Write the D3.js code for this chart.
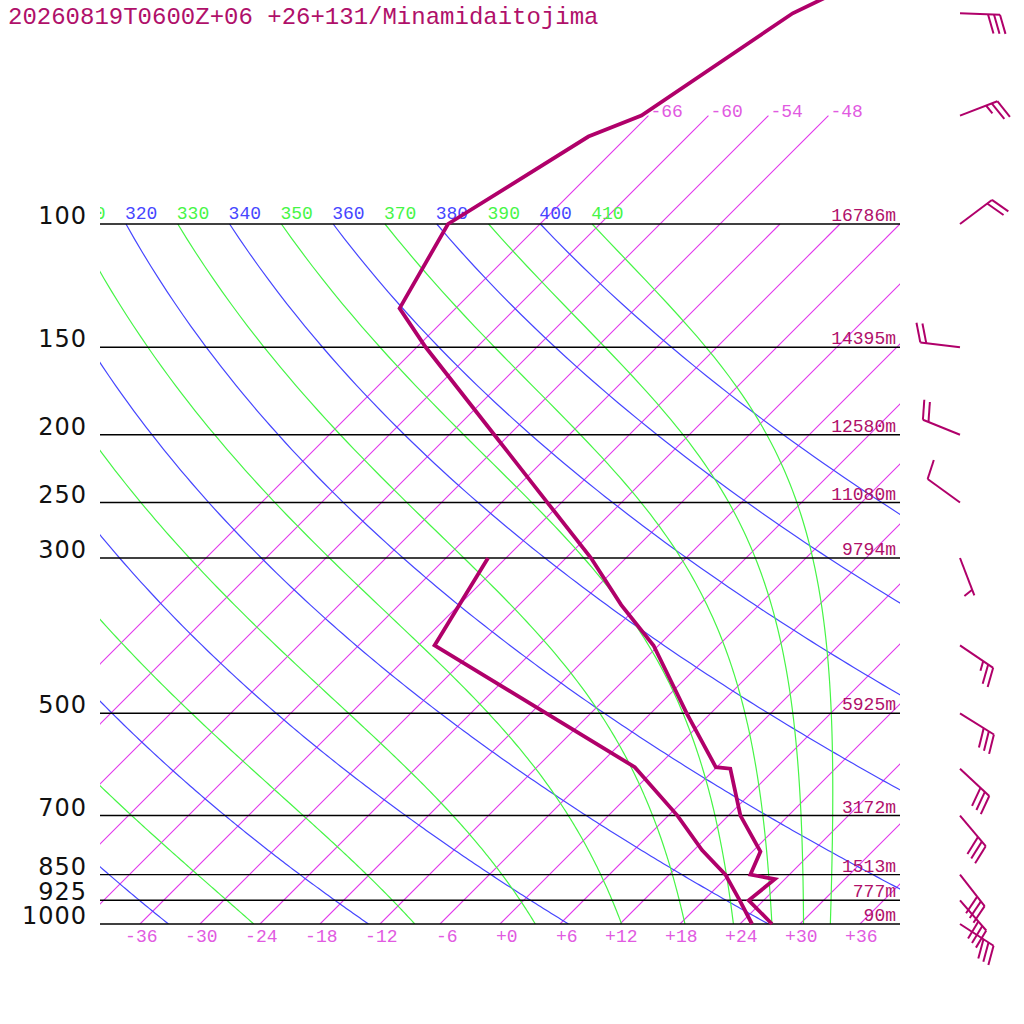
<!DOCTYPE html>
<html>
<head>
<meta charset="utf-8">
<script src="https://cdn.jsdelivr.net/npm/d3@7.9.0/dist/d3.min.js"></script>
<style>
  body { margin: 0; background: #fff; }
  svg { display: block; }
</style>
</head>
<body>
<svg width="1024" height="1024"></svg>
<script>
const title = '20260819T0600Z+06 +26+131/Minamidaitojima';

// isobars and their heights
const isobars = [100, 150, 200, 250, 300, 500, 700, 850, 925, 1000];
const heights = ['16786m', '14395m', '12580m', '11080m', '9794m', '5925m', '3172m', '1513m', '777m', '90m'];

// background lines
const isotherms = [-66, -60, -54, -48, -42, -36, -30, -24, -18, -12, -6, 0, 6, 12, 18, 24, 30, 36];
const isothermsHigh = [-66, -60, -54, -48]; // these go up to 70 hPa
const tempTicks = [-36, -30, -24, -18, -12, -6, 0, 6, 12, 18, 24, 30, 36];
const dryThetas = [240, 260, 280, 300, 320, 340, 360, 380, 400];
const moistThetas = [250, 270, 290, 310, 330, 350, 370, 390, 410];
const thetaLabels = [310, 320, 330, 340, 350, 360, 370, 380, 390, 400, 410];

// sounding
const tempP = [1000, 925, 863, 850, 788, 700, 600, 597, 500, 400, 350, 300, 250, 200, 150, 132, 100, 75, 70, 50, 30];
const tempT = [27.2, 22.5, 23.0, 20.1, 18.8, 13.2, 7.5, 5.9, -2.4, -12.5, -19.8, -27.5, -37.4, -49.5, -65.1, -71.6, -75.2, -69.9, -66.7, -61.8, -45];
const dewP = [1000, 925, 850, 784, 700, 597, 400, 300];
const dewT = [25.2, 21.6, 17.6, 12.8, 6.9, -2.2, -34.4, -37.8];

// winds (deg, kt)
const windP = [50, 70, 100, 150, 200, 250, 300, 400, 500, 600, 700, 850, 925, 1000];
const windDir = [92, 69, 53, 277, 292, 306, 159, 124, 122, 133, 140, 142, 139, 123];
const windSpd = [30, 25, 20, 20, 20, 10, 5, 25, 30, 30, 30, 30, 30, 30];

const C = {
  trace: '#b0006a',
  label: '#b0106a',
  iso: 'rgb(225,55,235)',
  isoText: 'rgb(225,90,225)',
  dry: 'rgb(70,70,255)',
  moist: 'rgb(70,245,70)'
};
const mono = '"Liberation Mono", "DejaVu Sans Mono", monospace';

const svg = d3.select('svg');
const y = d3.scaleLog().domain([1000, 100]).range([924, 224]);
const x = d3.scaleLinear().domain([-40, 40]).range([100, 900]);
const skewX = (t, p) => x(t) + (y(1000) - y(p));

svg.append('defs').append('clipPath').attr('id', 'plot')
  .append('rect').attr('x', 100).attr('y', 0).attr('width', 800).attr('height', 924);

const grid = svg.append('g').attr('clip-path', 'url(#plot)').attr('fill', 'none');
const lineGen = d3.line().x(d => skewX(d[1], d[0])).y(d => y(d[0]));

// sample pressures for curved lines
const pLevels = d3.range(1000, 99, -5);

// isotherms
const isoG = grid.append('g');
isotherms.forEach(t => {
  const top = isothermsHigh.includes(t) ? 70 : 100;
  isoG.append('path')
    .attr('d', lineGen([[1000, t], [top, t]]))
    .style('stroke', C.iso).style('stroke-width', '1.1px').style('fill', 'none');
});

// dry adiabats
const kappa = 0.2857;
dryThetas.forEach(th => {
  const pts = pLevels.map(p => [p, th * Math.pow(p / 1000, kappa) - 273.15]);
  grid.append('path').attr('d', lineGen(pts))
    .style('stroke', C.dry).style('stroke-width', '1.2px').style('fill', 'none');
});

// moist adiabats: start at 100 hPa on the dry adiabat, integrate down
const Rd = 287.04, Cp = 1005.7, Lv = 2.501e6, eps = 0.622;
function dTdp(p, T) {
  const es = 6.112 * Math.exp(17.67 * (T - 273.15) / (T - 29.65));
  const rs = eps * es / (p - es);
  return (Rd * T + Lv * rs) / (p * (Cp + Lv * Lv * rs * eps / (Rd * T * T)));
}
moistThetas.forEach(th => {
  let T = th * Math.pow(0.1, kappa);
  const pts = [[100, T - 273.15]];
  const dp = 1;
  for (let p = 100; p < 1000; p += dp) {
    const k1 = dTdp(p, T);
    const k2 = dTdp(p + dp / 2, T + k1 * dp / 2);
    const k3 = dTdp(p + dp / 2, T + k2 * dp / 2);
    const k4 = dTdp(p + dp, T + k3 * dp);
    T += dp * (k1 + 2 * k2 + 2 * k3 + k4) / 6;
    if ((p + dp) % 5 === 0) pts.push([p + dp, T - 273.15]);
  }
  grid.append('path').attr('d', lineGen(pts))
    .style('stroke', C.moist).style('stroke-width', '1.2px').style('fill', 'none');
});

// theta labels along 100 hPa
const labelG = svg.append('g').attr('clip-path', 'url(#plot)');
thetaLabels.forEach(th => {
  const t = th * Math.pow(0.1, kappa) - 273.15;
  labelG.append('text')
    .attr('x', skewX(t, 100) - 1).attr('y', y(100) - 5)
    .attr('fill', th % 20 === 0 ? C.dry : C.moist)
    .attr('font-family', mono).attr('font-size', 18)
    .text(th);
});

// isobars
svg.append('g').selectAll('line').data(isobars).join('line')
  .attr('x1', 100).attr('x2', 900)
  .attr('y1', d => y(d)).attr('y2', d => y(d))
  .attr('stroke', '#000').attr('stroke-width', 1.4);

// pressure labels
svg.append('g').selectAll('text').data(isobars).join('text')
  .attr('x', 87).attr('y', d => y(d))
  .attr('text-anchor', 'end')
  .attr('font-family', '"DejaVu Sans", sans-serif').attr('font-size', 24)
  .attr('letter-spacing', 1)
  .attr('fill', '#111')
  .text(d => d);

// height labels
svg.append('g').selectAll('text').data(isobars).join('text')
  .attr('x', 896).attr('y', d => y(d) - 3)
  .attr('text-anchor', 'end')
  .attr('font-family', mono).attr('font-size', 18)
  .attr('fill', C.label)
  .text((d, i) => heights[i]);

// temperature ticks at bottom
const fmt = t => (t < 0 ? '-' : '+') + Math.abs(t);
svg.append('g').selectAll('text').data(tempTicks).join('text')
  .attr('x', d => x(d) + 17.5).attr('y', 942)
  .attr('text-anchor', 'end')
  .attr('font-family', mono).attr('font-size', 18)
  .attr('fill', C.isoText)
  .text(fmt);

// isotherm labels at top of the high isotherms
svg.append('g').selectAll('text').data(isothermsHigh).join('text')
  .attr('x', d => skewX(d, 70) + 2).attr('y', y(70) + 1)
  .attr('font-family', mono).attr('font-size', 18)
  .attr('fill', C.isoText)
  .text(fmt);

// title
svg.append('text')
  .attr('x', 8).attr('y', 24)
  .attr('font-family', mono).attr('font-size', 24)
  .attr('fill', C.label)
  .text(title);

// sounding traces
[[tempP, tempT], [dewP, dewT]].forEach(([ps, ts]) => {
  svg.append('path')
    .attr('d', lineGen(ps.map((p, i) => [p, ts[i]])))
    .attr('fill', 'none').attr('stroke', C.trace)
    .attr('stroke-width', 3.8).attr('stroke-linejoin', 'miter');
});

// wind barbs
const barbG = svg.append('g').attr('stroke', C.trace).attr('stroke-width', 2)
  .attr('fill', 'none').attr('stroke-linecap', 'butt');
windP.forEach((p, i) => {
  const a = windDir[i] * Math.PI / 180;
  const ux = Math.sin(a), uy = -Math.cos(a);
  const bx0 = 960, by0 = y(p);
  const len = 40;
  const tx = bx0 + ux * len, ty = by0 + uy * len;
  barbG.append('line').attr('x1', bx0).attr('y1', by0).attr('x2', tx).attr('y2', ty);
  const r = 72 * Math.PI / 180;
  const vx = ux * Math.cos(r) - uy * Math.sin(r);
  const vy = ux * Math.sin(r) + uy * Math.cos(r);
  const spd = windSpd[i];
  const full = Math.floor(spd / 10);
  const half = (spd % 10) >= 5 ? 1 : 0;
  let k = 0;
  for (let f = 0; f < full; f++, k++) {
    const sx = tx - ux * 6 * k, sy = ty - uy * 6 * k;
    barbG.append('line').attr('x1', sx).attr('y1', sy)
      .attr('x2', sx + vx * 20).attr('y2', sy + vy * 20);
  }
  if (half) {
    if (k === 0) k = 1;
    const sx = tx - ux * 6 * k, sy = ty - uy * 6 * k;
    barbG.append('line').attr('x1', sx).attr('y1', sy)
      .attr('x2', sx + vx * 10).attr('y2', sy + vy * 10);
  }
});
</script>
</body>
</html>
